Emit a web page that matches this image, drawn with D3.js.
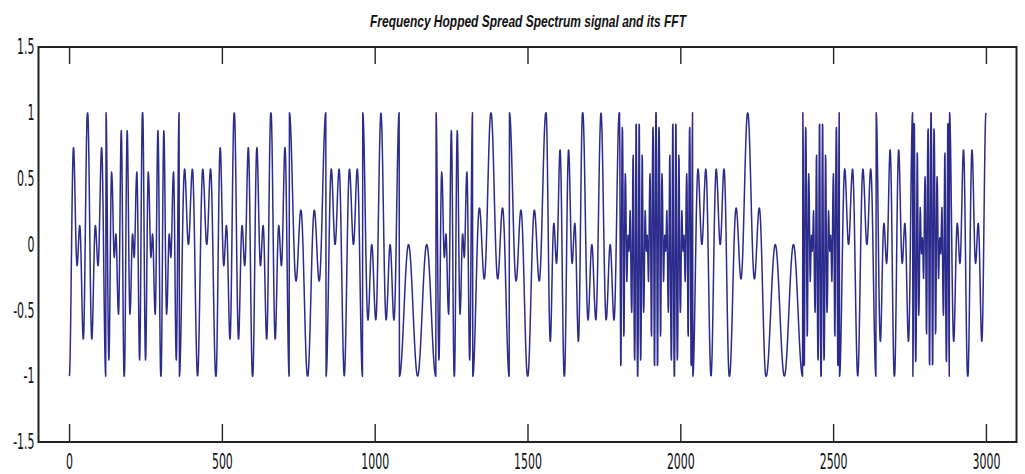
<!DOCTYPE html>
<html>
<head>
<meta charset="utf-8">
<script src="https://cdn.jsdelivr.net/npm/d3@7"></script>
<style>
  html, body { margin: 0; padding: 0; background: #fff; }
  svg { display: block; }
  .tick text { font-family: "Liberation Sans Narrow", "DejaVu Sans Condensed", "Liberation Sans", sans-serif; font-size: 21px; fill: #111; }
</style>
</head>
<body>
<svg id="chart" width="1025" height="474"></svg>
<script>
// One data bit per 120-sample symbol (1 -> +cos, 0 -> -cos BPSK symbol)
const bits = [0,1,1,0,0,0,1,0,1,0,1,0,1,1,1,1,1,0,0,0,1,0,1,0,1];
// Carrier (1..6) that each symbol hops to
const hopCarrier = [3,2,2,4,3,3,5,4,4,6,2,5,5,3,4,1,1,4,5,6,1,4,3,1,3];
// Samples in one period of each hop carrier
const carrierLength = [10,20,30,40,60,120];
const samplesPerBit = 120;

const xTicks = [0,500,1000,1500,2000,2500,3000];
const yTicks = [-1.5,-1,-0.5,0,0.5,1,1.5];
const titleText = "Frequency Hopped Spread Spectrum signal and its FFT";

// BPSK symbol times the hopped carrier, sample by sample (x = 1..3000)
const signal = [];
bits.forEach((b, k) => {
  const L = carrierLength[hopCarrier[k] - 1];
  for (let i = 0; i < samplesPerBit; i++) {
    const bpsk = (b ? 1 : -1) * Math.cos(2 * Math.PI * i / (samplesPerBit - 1));
    const carrier = Math.cos(2 * Math.PI * (i % L) / (L - 1));
    signal.push({ n: k * samplesPerBit + i + 1, v: bpsk * carrier });
  }
});

const svg = d3.select("#chart");
const plotLeft = 38.5, plotRight = 1016.5, plotTop = 47, plotBottom = 442;

const x = d3.scaleLinear().domain([-100, 3100]).range([plotLeft, plotRight]);
const y = d3.scaleLinear().domain([-1.5, 1.5]).range([plotBottom, plotTop]);

// waveform
svg.append("path")
  .datum(signal)
  .attr("fill", "none")
  .attr("stroke", "#2b2b8c")
  .attr("stroke-width", 1.5)
  .attr("stroke-linejoin", "round")
  .attr("d", d3.line().x(d => x(d.n)).y(d => y(d.v)));

const fmt = d => String(d);
const sx = 0.58;

// bottom axis: inward ticks with labels
const gx = svg.append("g")
  .attr("transform", `translate(0,${plotBottom})`)
  .call(d3.axisBottom(x).tickValues(xTicks).tickSize(-18).tickPadding(12).tickFormat(fmt));
gx.select(".domain").remove();
gx.selectAll(".tick line").attr("stroke", "#222").attr("stroke-width", 1.4);
gx.selectAll(".tick text").attr("transform", `scale(${sx},1)`);

// top axis: mirrored ticks, no labels
const gt = svg.append("g")
  .attr("transform", `translate(0,${plotTop})`)
  .call(d3.axisTop(x).tickValues(xTicks).tickSize(-17).tickFormat(""));
gt.select(".domain").remove();
gt.selectAll(".tick line").attr("stroke", "#222").attr("stroke-width", 1.4);

// left axis labels
const gy = svg.append("g")
  .attr("transform", `translate(${plotLeft},0)`)
  .call(d3.axisLeft(y).tickValues(yTicks).tickSize(0).tickPadding(4).tickFormat(fmt));
gy.select(".domain").remove();
gy.selectAll(".tick text")
  .attr("x", -4 / sx)
  .attr("transform", `scale(${sx},1)`);

// axes box
svg.append("rect")
  .attr("x", plotLeft).attr("y", plotTop)
  .attr("width", plotRight - plotLeft).attr("height", plotBottom - plotTop)
  .attr("fill", "none")
  .attr("stroke", "#222")
  .attr("stroke-width", 2);

// title
svg.append("text")
  .attr("x", 528).attr("y", 27)
  .attr("text-anchor", "middle")
  .attr("textLength", 316)
  .attr("lengthAdjust", "spacingAndGlyphs")
  .style("font-family", "'Liberation Sans Narrow', 'Liberation Sans', sans-serif")
  .style("font-size", "17px")
  .style("font-weight", "bold")
  .style("font-style", "italic")
  .style("fill", "#111")
  .text(titleText);
</script>
</body>
</html>
